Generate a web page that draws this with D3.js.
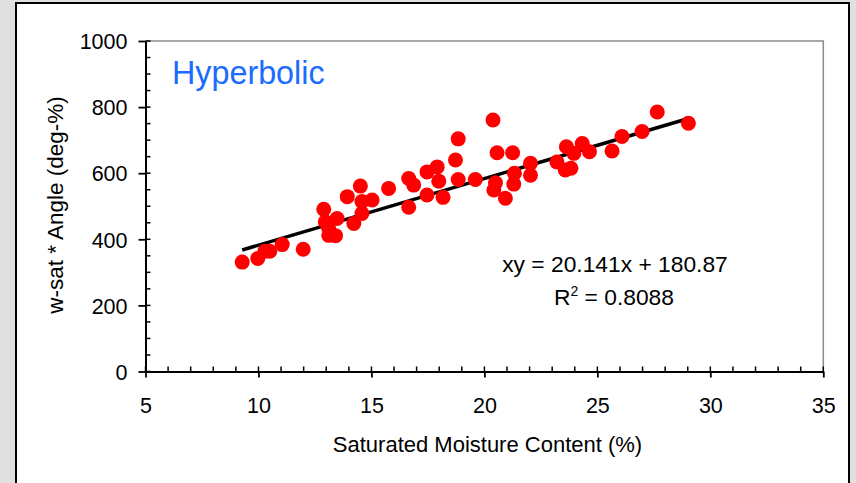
<!DOCTYPE html>
<html><head><meta charset="utf-8">
<script src="https://cdn.jsdelivr.net/npm/d3@7"></script>
<style>
html,body{margin:0;padding:0;background:#e0e0e0;}
svg{display:block;}
text{font-family:"Liberation Sans",Arial,sans-serif;}
</style></head>
<body>
<svg id="chart" width="856" height="483"></svg>
<script>
// ---- data ----
const satMoisture = [9.28,9.97,10.28,10.50,11.05,11.98,12.89,12.96,13.48,13.11,13.11,13.41,13.93,14.22,14.51,14.58,14.58,15.03,15.76,16.65,16.87,16.65,17.46,17.91,17.46,17.98,18.17,18.72,18.84,18.84,19.60,20.38,20.56,21.25,20.49,20.42,20.93,21.30,21.33,22.04,22.04,23.21,23.63,23.96,23.58,23.83,24.33,24.65,25.65,26.09,26.98,27.65,29.03];
const wsatAngle   = [331,342,364,364,384,370,491,453,463,433,412,411,529,448,561,514,478,519,554,584,564,497,604,619,534,576,527,640,704,581,581,761,662,662,571,549,524,567,600,630,594,634,680,660,610,615,690,665,667,711,726,785,751];
const xTickValues = [5,10,15,20,25,30,35];
const yTickValues = [0,200,400,600,800,1000];
const trendSlope = 20.141;
const trendIntercept = 180.87;
const eqLabel = "xy = 20.141x + 180.87";
const r2Value = "0.8088";
const title = "Hyperbolic";
const xTitle = "Saturated Moisture Content (%)";
const yTitle = "w-sat * Angle (deg-%)";

// ---- layout ----
const svg = d3.select("#chart");
const L = 145.5, R = 823.3, T = 41, B = 371.5;
const x = d3.scaleLinear().domain([5,35]).range([L,R]);
const y = d3.scaleLinear().domain([0,1000]).range([B,T]);
const font = "21.5px";

// panel
svg.append("rect").attr("x",0).attr("y",0).attr("width",856).attr("height",483).attr("fill","#e0e0e0");
svg.append("rect").attr("x",16).attr("y",3).attr("width",833).attr("height",490)
  .attr("fill","#fff").attr("stroke","#000").attr("stroke-width",2);

// plot frame top/right (gray)
svg.append("path").attr("d",`M${L},${T}H${R}V${B}`).attr("fill","none").attr("stroke","#8c8c8c").attr("stroke-width",1.5);

// minor ticks (inside)
const xMinor = d3.range(5,35.01,1);
const yMinor = d3.range(0,1000.01,50);
svg.append("g").selectAll("line").data(xMinor).join("line")
  .attr("x1",d=>x(d)).attr("x2",d=>x(d)).attr("y1",B).attr("y2",B-5)
  .attr("stroke","#000").attr("stroke-width",1.5);
svg.append("g").selectAll("line").data(yMinor).join("line")
  .attr("x1",L).attr("x2",L+5).attr("y1",d=>y(d)).attr("y2",d=>y(d))
  .attr("stroke","#000").attr("stroke-width",1.5);

// axes with outward major ticks
const xAxis = svg.append("g").attr("transform",`translate(0,${B})`)
  .call(d3.axisBottom(x).tickValues(xTickValues).tickSize(6).tickPadding(21).tickSizeOuter(0).tickFormat(d3.format("d")));
const yAxis = svg.append("g").attr("transform",`translate(${L},0)`)
  .call(d3.axisLeft(y).tickValues(yTickValues).tickSize(7).tickPadding(11).tickSizeOuter(0).tickFormat(d3.format("d")));
[xAxis,yAxis].forEach(g=>{
  g.select(".domain").attr("stroke","#000").attr("stroke-width",2);
  g.selectAll(".tick line").attr("stroke","#000").attr("stroke-width",1.8);
  g.selectAll(".tick text").attr("fill","#000").style("font-size",font).style("font-family","'Liberation Sans',Arial,sans-serif");
});
xAxis.selectAll(".tick text").attr("dy","0");
xAxis.selectAll(".tick text").attr("y",41.5);
yAxis.selectAll(".tick text").attr("dy","0.36em");

// trendline
const xMin = d3.min(satMoisture), xMax = d3.max(satMoisture);
svg.append("line")
  .attr("x1",x(xMin)).attr("y1",y(trendSlope*xMin+trendIntercept))
  .attr("x2",x(xMax)).attr("y2",y(trendSlope*xMax+trendIntercept))
  .attr("stroke","#000").attr("stroke-width",3.5);

// points
svg.append("g").selectAll("circle").data(satMoisture.map((v,i)=>[v,wsatAngle[i]])).join("circle")
  .attr("cx",d=>x(d[0])).attr("cy",d=>y(d[1])).attr("r",7.5).attr("fill","#ff0000");

// texts
svg.append("text").attr("x",172).attr("y",83.5).attr("fill","#1a6cff").style("font-size","32.3px").text(title);
svg.append("text").attr("x",615).attr("y",272).attr("text-anchor","middle").style("font-size","22.8px").text(eqLabel);
const r2 = svg.append("text").attr("x",614).attr("y",305).attr("text-anchor","middle").style("font-size","22.8px");
r2.append("tspan").text("R");
r2.append("tspan").attr("dy",-9).style("font-size","14px").text("2");
r2.append("tspan").attr("dy",9).text(" = " + r2Value);

svg.append("text").attr("x",487.5).attr("y",452).attr("text-anchor","middle").style("font-size","22px").text(xTitle);
svg.append("text").attr("transform",`translate(63,205) rotate(-90)`).attr("text-anchor","middle").style("font-size","22.5px").text(yTitle);
</script>
</body></html>
